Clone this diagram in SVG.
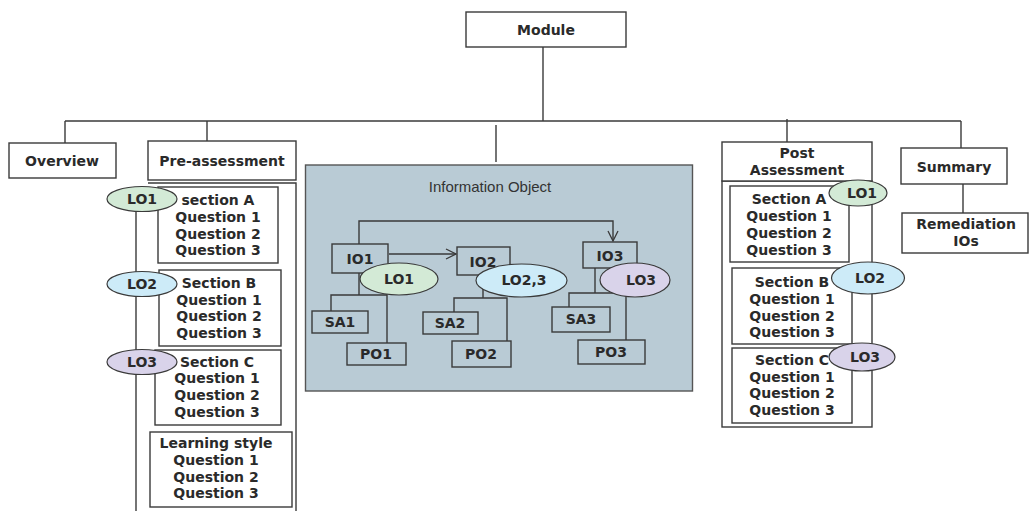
<svg xmlns="http://www.w3.org/2000/svg" width="1029" height="511" viewBox="0 0 1029 511">
  <style>
    .box { fill: #ffffff; stroke: #3a3a3a; stroke-width: 1.4; }
    .io { fill: none; stroke: #3a3a3a; stroke-width: 1.4; }
    .ln { fill: none; stroke: #3a3a3a; stroke-width: 1.4; }
    .t { font-family: "DejaVu Sans", "Liberation Sans", sans-serif; font-weight: bold; font-size: 14px; fill: #2a2a2a; text-anchor: middle; }
    .tn { font-family: "Liberation Sans", Arial, sans-serif; font-size: 15px; fill: #333333; text-anchor: middle; }
    .lo1 { fill: #d3ead6; stroke: #3a3a3a; stroke-width: 1.2; }
    .lo2 { fill: #cdebf8; stroke: #3a3a3a; stroke-width: 1.2; }
    .lo3 { fill: #d9d3ea; stroke: #3a3a3a; stroke-width: 1.2; }
  </style>
  <defs>
    <marker id="open" viewBox="0 0 12 12" refX="11" refY="6" markerWidth="12" markerHeight="12" markerUnits="userSpaceOnUse" orient="auto">
      <path d="M1,1 L11,6 L1,11" fill="none" stroke="#3a3a3a" stroke-width="1.3"/>
    </marker>
  </defs>

  <rect width="1029" height="511" fill="#ffffff"/>

  <!-- main tree connectors -->
  <g id="connectors">
    <line class="ln" x1="543" y1="47" x2="543" y2="121"/>
    <line class="ln" x1="65" y1="121" x2="961" y2="121"/>
    <line class="ln" x1="65" y1="121" x2="65" y2="143"/>
    <line class="ln" x1="207" y1="121" x2="207" y2="141"/>
    <line class="ln" x1="496" y1="125" x2="496" y2="162"/>
    <line class="ln" x1="787" y1="119" x2="787" y2="142"/>
    <line class="ln" x1="961" y1="121" x2="961" y2="148"/>
    <line class="ln" x1="963" y1="184" x2="963" y2="213"/>
    <!-- pre-assessment column -->
    <polyline class="ln" points="148,183 296,183 296,511"/>
    <line class="ln" x1="136" y1="210" x2="136" y2="511"/>
  </g>

  <g id="module">
    <rect class="box" x="466" y="12" width="160" height="35"/>
    <text class="t" x="546" y="35">Module</text>
  </g>

  <g id="overview">
    <rect class="box" x="9" y="143" width="107" height="35"/>
    <text class="t" x="62" y="166">Overview</text>
  </g>

  <g id="pre-assessment">
    <rect class="box" x="148" y="141" width="148" height="39"/>
    <text class="t" x="222" y="166">Pre-assessment</text>
  </g>

  <g id="pre-section-a">
    <rect class="box" x="158" y="187" width="120" height="76"/>
    <text class="t" x="218" y="205">section A</text>
    <text class="t" x="218" y="222">Question 1</text>
    <text class="t" x="218" y="239">Question 2</text>
    <text class="t" x="218" y="255">Question 3</text>
  </g>
  <g id="pre-lo1">
    <ellipse class="lo1" cx="142" cy="199" rx="35" ry="12.5"/>
    <text class="t" x="142" y="204">LO1</text>
  </g>

  <g id="pre-section-b">
    <rect class="box" x="159" y="270" width="122" height="76"/>
    <text class="t" x="219" y="288">Section B</text>
    <text class="t" x="219" y="305">Question 1</text>
    <text class="t" x="219" y="321">Question 2</text>
    <text class="t" x="219" y="338">Question 3</text>
  </g>
  <g id="pre-lo2">
    <ellipse class="lo2" cx="142" cy="284" rx="35" ry="12.5"/>
    <text class="t" x="142" y="289">LO2</text>
  </g>

  <g id="pre-section-c">
    <rect class="box" x="155" y="350" width="126" height="75"/>
    <text class="t" x="217" y="367">Section C</text>
    <text class="t" x="217" y="383">Question 1</text>
    <text class="t" x="217" y="400">Question 2</text>
    <text class="t" x="217" y="417">Question 3</text>
  </g>
  <g id="pre-lo3">
    <ellipse class="lo3" cx="142" cy="362" rx="35" ry="12.5"/>
    <text class="t" x="142" y="367">LO3</text>
  </g>

  <g id="learning-style">
    <rect class="box" x="150" y="432" width="142" height="75"/>
    <text class="t" x="216" y="448">Learning style</text>
    <text class="t" x="216" y="465">Question 1</text>
    <text class="t" x="216" y="482">Question 2</text>
    <text class="t" x="216" y="498">Question 3</text>
  </g>

  <!-- information object panel -->
  <g id="information-object">
    <rect x="305.5" y="165" width="387" height="226" fill="#b9cbd5" stroke="#555555" stroke-width="1.4"/>
    <text class="tn" x="490" y="192">Information Object</text>

    <g id="io-links">
      <polyline class="ln" points="359,244 359,221 613,221 613,241" marker-end="url(#open)"/>
      <line class="ln" x1="389" y1="254" x2="456" y2="254" marker-end="url(#open)"/>
      <!-- IO1 subtree -->
      <line class="ln" x1="359" y1="273" x2="359" y2="295"/>
      <polyline class="ln" points="331,311 331,295 387,295"/>
      <line class="ln" x1="387" y1="290" x2="387" y2="343"/>
      <!-- IO2 subtree -->
      <line class="ln" x1="483" y1="275" x2="483" y2="298"/>
      <polyline class="ln" points="454,312 454,298 507,298 507,341"/>
      <!-- IO3 subtree -->
      <line class="ln" x1="595" y1="268" x2="595" y2="293"/>
      <polyline class="ln" points="569,307 569,293 626,293 626,340"/>
    </g>

    <g id="io1">
      <rect class="io" x="332" y="244" width="56" height="29"/>
      <text class="t" x="360" y="264">IO1</text>
    </g>
    <g id="io2">
      <rect class="io" x="457" y="247" width="53" height="28"/>
      <text class="t" x="483" y="267">IO2</text>
    </g>
    <g id="io3">
      <rect class="io" x="583" y="242" width="54" height="26"/>
      <text class="t" x="610" y="261">IO3</text>
    </g>

    <g id="io-lo1">
      <ellipse class="lo1" cx="399" cy="279" rx="39" ry="16"/>
      <text class="t" x="399" y="284">LO1</text>
    </g>
    <g id="io-lo23">
      <ellipse class="lo2" cx="521.5" cy="280.5" rx="45.5" ry="16.5"/>
      <text class="t" x="524" y="285">LO2,3</text>
    </g>
    <g id="io-lo3">
      <ellipse class="lo3" cx="635" cy="280" rx="35" ry="17"/>
      <text class="t" x="641" y="285">LO3</text>
    </g>

    <g id="sa1">
      <rect class="io" x="312" y="311" width="56" height="22"/>
      <text class="t" x="340" y="327">SA1</text>
    </g>
    <g id="po1">
      <rect class="io" x="347" y="343" width="59" height="22"/>
      <text class="t" x="376" y="359">PO1</text>
    </g>
    <g id="sa2">
      <rect class="io" x="423" y="312" width="55" height="22"/>
      <text class="t" x="450" y="328">SA2</text>
    </g>
    <g id="po2">
      <rect class="io" x="452" y="341" width="59" height="26"/>
      <text class="t" x="481" y="359">PO2</text>
    </g>
    <g id="sa3">
      <rect class="io" x="552" y="307" width="58" height="25"/>
      <text class="t" x="581" y="324">SA3</text>
    </g>
    <g id="po3">
      <rect class="io" x="578" y="340" width="67" height="24"/>
      <text class="t" x="611" y="357">PO3</text>
    </g>
  </g>

  <!-- post assessment column -->
  <g id="post-assessment">
    <rect class="box" x="722" y="181" width="150" height="246"/>
    <rect class="box" x="722" y="142" width="150" height="39"/>
    <text class="t" x="797" y="158">Post</text>
    <text class="t" x="797" y="175">Assessment</text>
  </g>

  <g id="post-section-a">
    <rect class="box" x="730" y="186" width="119" height="76"/>
    <text class="t" x="789" y="204">Section A</text>
    <text class="t" x="789" y="221">Question 1</text>
    <text class="t" x="789" y="238">Question 2</text>
    <text class="t" x="789" y="255">Question 3</text>
  </g>
  <g id="post-section-b">
    <rect class="box" x="732" y="268" width="120" height="76"/>
    <text class="t" x="792" y="287">Section B</text>
    <text class="t" x="792" y="304">Question 1</text>
    <text class="t" x="792" y="321">Question 2</text>
    <text class="t" x="792" y="337">Question 3</text>
  </g>
  <g id="post-section-c">
    <rect class="box" x="732" y="348" width="120" height="75"/>
    <text class="t" x="792" y="365">Section C</text>
    <text class="t" x="792" y="382">Question 1</text>
    <text class="t" x="792" y="398">Question 2</text>
    <text class="t" x="792" y="415">Question 3</text>
  </g>
  <g id="post-lo1">
    <ellipse class="lo1" cx="858" cy="193" rx="29" ry="13"/>
    <text class="t" x="862" y="198">LO1</text>
  </g>
  <g id="post-lo2">
    <ellipse class="lo2" cx="868" cy="278" rx="36.5" ry="16"/>
    <text class="t" x="870" y="283">LO2</text>
  </g>
  <g id="post-lo3">
    <ellipse class="lo3" cx="862" cy="357" rx="33" ry="14"/>
    <text class="t" x="865" y="362">LO3</text>
  </g>

  <g id="summary">
    <rect class="box" x="901" y="148" width="106" height="36"/>
    <text class="t" x="954" y="172">Summary</text>
  </g>
  <g id="remediation">
    <rect class="box" x="902" y="213" width="126" height="40"/>
    <text class="t" x="966" y="229">Remediation</text>
    <text class="t" x="966" y="246">IOs</text>
  </g>
</svg>
